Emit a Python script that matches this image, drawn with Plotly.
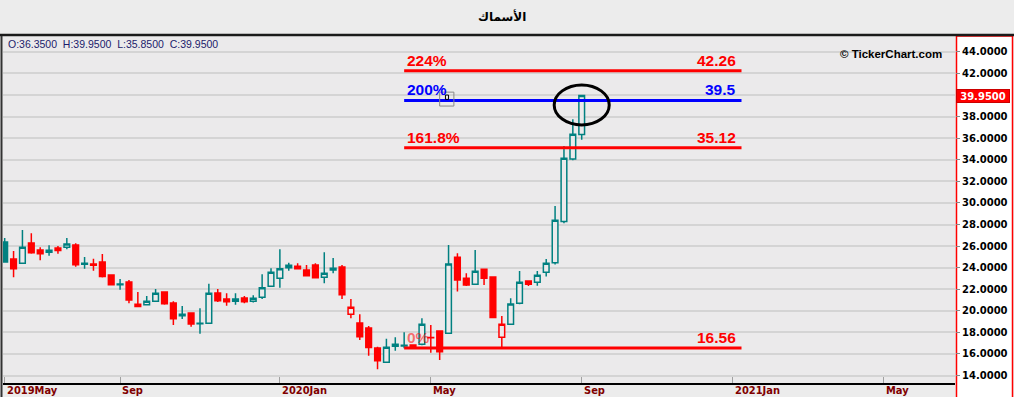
import plotly.graph_objects as go

# ---------------- data (weekly candles) ----------------
opens = [26.38, 24.81, 24.41, 26.29, 25.64, 25.43, 25.83, 25.89, 26.10, 24.41,
         24.34, 24.53, 23.32, 22.42, 22.67, 20.39, 20.57, 20.89, 21.75, 20.73,
         19.68, 19.80, 18.85, 18.85, 21.66, 21.10, 20.89, 21.19, 20.89, 21.26,
         22.28, 23.02, 24.22, 24.13, 23.79, 24.25, 23.11, 23.94, 24.06, 19.68,
         18.87, 18.41, 16.56, 15.23, 16.90, 16.81, 16.84, 16.90, 17.52, 18.13,
         17.92, 24.96, 23.02, 22.46, 23.85, 23.14, 17.55, 18.75, 20.70, 22.77,
         22.65, 23.57, 24.46, 28.27, 34.07, 36.35]
highs = [26.75, 25.55, 27.49, 27.19, 25.89, 26.08, 26.01, 26.75, 26.26, 25.00,
         24.83, 25.27, 23.35, 22.95, 22.86, 21.75, 21.38, 22.03, 21.78, 20.89,
         20.45, 19.85, 20.24, 22.52, 22.03, 21.63, 21.63, 21.38, 21.44, 23.39,
         23.94, 25.71, 24.46, 24.41, 24.25, 24.41, 25.43, 24.90, 24.25, 21.10,
         19.68, 18.60, 16.68, 17.42, 17.55, 18.01, 16.90, 19.31, 18.69, 18.15,
         26.10, 25.33, 23.48, 25.64, 23.88, 23.20, 19.52, 21.16, 23.69, 22.80,
         23.69, 24.81, 29.72, 35.28, 37.75, 39.95]
lows = [24.50, 23.11, 24.35, 25.30, 24.69, 25.11, 25.30, 25.70, 24.09, 23.91,
        23.72, 23.10, 22.40, 21.96, 20.70, 20.39, 20.55, 20.85, 20.57, 18.69,
        19.25, 18.53, 17.88, 18.80, 20.82, 20.48, 20.57, 20.70, 20.76, 21.10,
        22.20, 22.15, 23.72, 23.90, 23.20, 23.02, 22.55, 23.48, 21.10, 19.31,
        17.30, 15.84, 14.58, 15.20, 16.31, 16.53, 16.60, 16.80, 16.12, 15.45,
        17.90, 21.78, 22.30, 22.40, 22.40, 19.30, 16.56, 18.70, 20.60, 22.30,
        22.33, 23.17, 24.30, 28.11, 33.95, 35.85]
closes = [24.53, 23.91, 25.89, 25.39, 25.30, 25.61, 25.58, 26.20, 24.28, 24.32,
          24.22, 23.17, 22.42, 22.48, 21.01, 20.61, 20.89, 21.63, 20.66, 19.27,
          19.55, 18.78, 18.80, 21.63, 20.94, 20.85, 21.10, 20.85, 21.16, 22.15,
          23.57, 23.91, 24.00, 23.91, 23.26, 23.07, 23.48, 23.79, 21.48, 20.33,
          17.60, 16.59, 15.38, 16.62, 16.72, 16.75, 16.68, 18.75, 17.50, 16.21,
          24.34, 22.86, 22.40, 23.67, 23.02, 19.37, 18.75, 20.64, 22.65, 22.46,
          23.30, 24.41, 28.39, 34.14, 36.36, 39.95]
bars = list(range(len(closes)))          # weekly bar number

# month labels on the time axis (bar number where each month begins)
tick_bars = [0, 13, 31, 48, 65, 82, 99]
tick_labels = ["2019May", "Sep", "2020Jan", "May", "Sep", "2021Jan", "May"]

# Fibonacci projection drawn on the chart
fib_levels = ["0%", "161.8%", "200%", "224%"]
fib_prices = [16.56, 35.12, 39.5, 42.26]
fib_colors = ["#ff0000", "#ff0000", "#0000ff", "#ff0000"]
fib_start_bar, fib_end_bar = 45, 83

title_text = "الأسماك"
last = len(closes) - 1
info_text = (f"O:{opens[last]:.4f}  H:{highs[last]:.4f}  "
             f"L:{lows[last]:.4f}  C:{closes[last]:.4f}")

# ---------------- styling ----------------
TEAL = "#008080"
RED = "#ff0000"
PLOT_BG = "#ebeaeb"
PAPER_BG = "#ececec"

W, H = 1014, 397
ML, MR, MT, MB = 3, 59, 37, 14
PW, PH = W - ML - MR, H - MT - MB


def px_x(px):
    return (px - ML) / PW


def px_y(py):
    return (H - MB - py) / PH


fig = go.Figure()

prev = [closes[0]] + closes[:-1]
groups = {}
for i in bars:
    up = closes[i] >= prev[i]
    hollow = closes[i] > opens[i]
    groups.setdefault((up, hollow), []).append(i)

for (up, hollow), idx in groups.items():
    col = TEAL if up else RED
    fill = PLOT_BG if hollow else col
    style = dict(line=dict(color=col, width=1.5), fillcolor=fill)
    fig.add_trace(go.Candlestick(
        x=[bars[i] for i in idx],
        open=[opens[i] for i in idx],
        high=[highs[i] for i in idx],
        low=[lows[i] for i in idx],
        close=[closes[i] for i in idx],
        increasing=style, decreasing=style,
        whiskerwidth=0, hoverinfo="skip", showlegend=False,
    ))

shapes = []
annotations = []

# Fibonacci lines and labels
for lvl, price, col in zip(fib_levels, fib_prices, fib_colors):
    shapes.append(dict(type="line", xref="x", yref="y",
                       x0=fib_start_bar, x1=fib_end_bar, y0=price, y1=price,
                       line=dict(color=col, width=3)))
    lcol = "rgba(255,0,0,0.55)" if lvl == "0%" else col
    annotations.append(dict(xref="x", yref="y", x=fib_start_bar, y=price,
                            xanchor="left", yanchor="bottom", xshift=1, yshift=0,
                            text=f"<b>{lvl}</b>", showarrow=False,
                            font=dict(family="Liberation Sans", size=15.5, color=lcol)))
    annotations.append(dict(xref="x", yref="y", x=fib_end_bar, y=price,
                            xanchor="right", yanchor="bottom", xshift=-4, yshift=0,
                            text=f"<b>{price:g}</b>", showarrow=False,
                            font=dict(family="Liberation Sans", size=15.5, color=col)))

# ellipse around last candle
shapes.append(dict(type="circle", xref="x", yref="y",
                   x0=last - 3.1, x1=last + 3.1, y0=37.23, y1=40.93,
                   line=dict(color="black", width=3)))
# small handle box on the 200% line
shapes.append(dict(type="rect", xref="x", yref="y", x0=49.0, x1=50.6,
                   y0=38.98, y1=40.27, line=dict(color="#888888", width=1)))
shapes.append(dict(type="rect", xref="x", yref="y", x0=49.65, x1=50.0,
                   y0=39.6, y1=40.0, line=dict(color="black", width=1)))

# right price-axis panel (white with red border)
shapes.append(dict(type="rect", xref="paper", yref="paper", layer="below",
                   x0=px_x(956.5), x1=px_x(1012.5), y0=px_y(399), y1=px_y(36),
                   fillcolor="white", line=dict(color=RED, width=1.5)))
# top frame line
shapes.append(dict(type="line", xref="paper", yref="paper",
                   x0=px_x(0), x1=px_x(1014), y0=px_y(35), y1=px_y(35),
                   line=dict(color="#1a1a1a", width=2.5)))
# left frame line
shapes.append(dict(type="line", xref="paper", yref="paper",
                   x0=px_x(1.5), x1=px_x(1.5), y0=px_y(397), y1=px_y(36),
                   line=dict(color="#333333", width=2)))

# month labels (left aligned next to tick marks)
for b, lab in zip(tick_bars, tick_labels):
    annotations.append(dict(xref="x", yref="paper", x=b, y=px_y(390),
                            xanchor="left", yanchor="middle", xshift=1,
                            borderpad=0,
                            text=f"<b>{lab}</b>", showarrow=False,
                            font=dict(family="Liberation Sans Narrow, DejaVu Sans Condensed, Liberation Sans",
                                      size=11, color="#800000")))

# title
annotations.append(dict(xref="paper", yref="paper", x=px_x(502), y=px_y(17),
                        xanchor="center", yanchor="middle", showarrow=False,
                        text=f"<b>{title_text}</b>",
                        font=dict(family="DejaVu Sans", size=12, color="black")))
# OHLC info line
annotations.append(dict(xref="paper", yref="paper", x=px_x(6), y=px_y(44),
                        xanchor="left", yanchor="middle", showarrow=False,
                        text=info_text,
                        font=dict(family="Liberation Sans", size=10.5, color="#1c1c6c")))
# copyright
annotations.append(dict(xref="paper", yref="paper", x=px_x(944), y=px_y(54),
                        xanchor="right", yanchor="middle", showarrow=False,
                        text="<b>© TickerChart.com</b>",
                        font=dict(family="Liberation Sans", size=11.5, color="black")))
# last price tag on the price axis
annotations.append(dict(xref="paper", yref="y", x=px_x(956), y=closes[last],
                        xanchor="left", yanchor="middle", showarrow=False,
                        text=f"<b>{closes[last]:.4f}</b>", bgcolor=RED,
                        bordercolor="#cc0000", borderwidth=1, borderpad=0,
                        width=52, height=12,
                        font=dict(family="DejaVu Sans", size=10, color="white")))

fig.update_layout(
    width=W, height=H,
    margin=dict(l=ML, r=MR, t=MT, b=MB, pad=0),
    paper_bgcolor=PAPER_BG, plot_bgcolor=PLOT_BG,
    boxgap=0.2, boxgroupgap=0.2,
    showlegend=False,
    shapes=shapes, annotations=annotations,
    xaxis=dict(range=[-0.19, 107.05], showgrid=False, zeroline=False,
               showline=True, linecolor="black", linewidth=2,
               ticks="inside", ticklen=6, tickcolor="#a0a0a0",
               tickvals=tick_bars, showticklabels=False,
               rangeslider=dict(visible=False), fixedrange=True),
    yaxis=dict(side="right", range=[13.31, 45.38], dtick=2, tick0=0,
               tickformat=".4f", showgrid=True, gridcolor="#d4d4d4", gridwidth=2,
               zeroline=False, ticks="outside", ticklen=4, tickcolor="#888888",
               tickfont=dict(family="DejaVu Sans", size=10, color="black", weight="bold"),
               showline=False, fixedrange=True),
)

fig.write_html("out.html",
               config={"displayModeBar": False},
               post_script="document.body.style.margin='0';document.body.style.overflow='hidden';")
